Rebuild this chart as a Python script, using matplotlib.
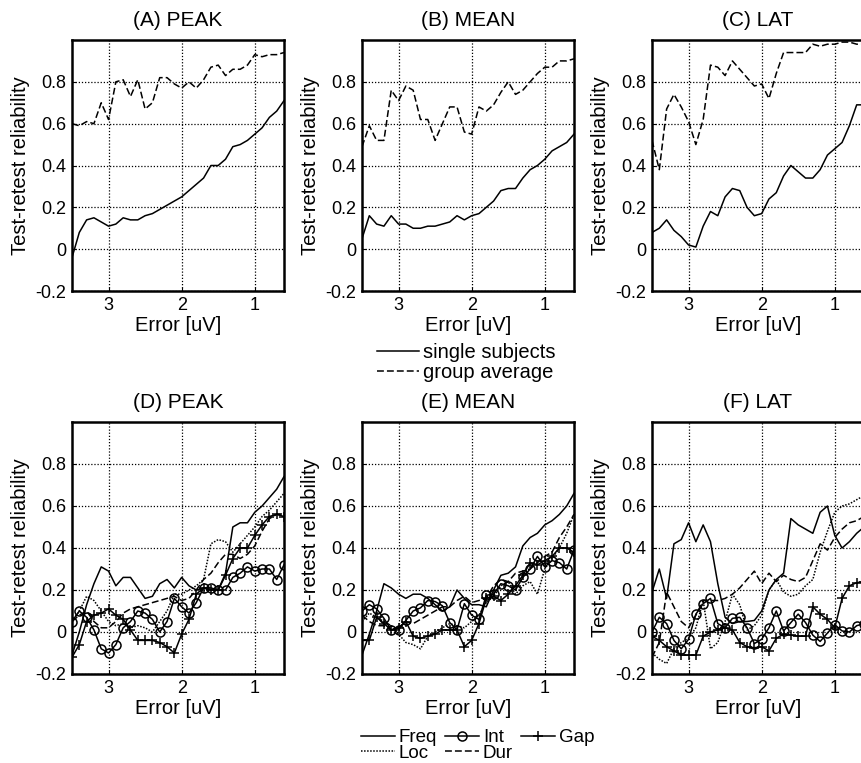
import numpy as np
import matplotlib
matplotlib.use("Agg")
import matplotlib.pyplot as plt
from matplotlib.lines import Line2D

plt.rcParams['font.family'] = ['Liberation Sans', 'DejaVu Sans']

# x values: error in uV (axis reversed)
err = [3.5, 3.4, 3.3, 3.2, 3.1, 3.0, 2.9, 2.8, 2.7, 2.6, 2.5, 2.4, 2.3, 2.2, 2.1,
       2.0, 1.9, 1.8, 1.7, 1.6, 1.5, 1.4, 1.3, 1.2, 1.1, 1.0, 0.9, 0.8, 0.7, 0.6]

top_titles = ["(A) PEAK", "(B) MEAN", "(C) LAT"]
bottom_titles = ["(D) PEAK", "(E) MEAN", "(F) LAT"]

# Top row: single subjects (solid) and group average (dashed)
peak_single = [-0.04, 0.08, 0.14, 0.15, 0.13, 0.11, 0.12, 0.15, 0.14, 0.14, 0.16, 0.17, 0.19, 0.21, 0.23,
               0.25, 0.28, 0.31, 0.34, 0.40, 0.40, 0.43, 0.49, 0.50, 0.52, 0.55, 0.58, 0.63, 0.66, 0.71]
peak_group = [0.60, 0.59, 0.61, 0.60, 0.70, 0.62, 0.80, 0.81, 0.73, 0.81, 0.67, 0.70, 0.82, 0.82, 0.79,
              0.77, 0.80, 0.77, 0.81, 0.87, 0.88, 0.83, 0.86, 0.86, 0.88, 0.93, 0.92, 0.93, 0.93, 0.94]
mean_single = [0.05, 0.16, 0.12, 0.11, 0.16, 0.12, 0.12, 0.10, 0.10, 0.11, 0.11, 0.12, 0.13, 0.16, 0.14,
               0.16, 0.17, 0.20, 0.23, 0.28, 0.29, 0.29, 0.34, 0.38, 0.40, 0.43, 0.47, 0.49, 0.51, 0.55]
mean_group = [0.49, 0.59, 0.52, 0.52, 0.76, 0.71, 0.78, 0.76, 0.62, 0.62, 0.52, 0.60, 0.68, 0.68, 0.56,
              0.55, 0.68, 0.66, 0.69, 0.75, 0.80, 0.74, 0.76, 0.80, 0.84, 0.87, 0.87, 0.90, 0.90, 0.91]
lat_single = [0.08, 0.10, 0.14, 0.09, 0.06, 0.02, 0.01, 0.11, 0.18, 0.16, 0.25, 0.29, 0.28, 0.20, 0.16,
              0.17, 0.24, 0.27, 0.35, 0.40, 0.37, 0.34, 0.34, 0.38, 0.45, 0.48, 0.51, 0.59, 0.69, 0.69]
lat_group = [0.52, 0.38, 0.67, 0.74, 0.68, 0.61, 0.50, 0.62, 0.88, 0.87, 0.83, 0.90, 0.86, 0.82, 0.78,
             0.79, 0.72, 0.84, 0.94, 0.94, 0.94, 0.94, 0.98, 0.97, 0.98, 0.98, 0.99, 0.99, 0.98, 0.98]

# Bottom row: features Freq, Int, Gap, Loc, Dur
peak_freq = [-0.11, 0.00, 0.13, 0.23, 0.31, 0.29, 0.22, 0.26, 0.26, 0.21, 0.16, 0.17, 0.23, 0.25, 0.21,
             0.26, 0.22, 0.20, 0.21, 0.20, 0.20, 0.28, 0.50, 0.52, 0.52, 0.57, 0.60, 0.64, 0.68, 0.74]
peak_int = [0.05, 0.10, 0.07, 0.01, -0.08, -0.10, -0.06, 0.02, 0.05, 0.10, 0.09, 0.06, 0.00, 0.05, 0.16,
            0.12, 0.09, 0.14, 0.21, 0.21, 0.20, 0.20, 0.26, 0.28, 0.31, 0.29, 0.30, 0.30, 0.25, 0.32]
peak_gap = [-0.12, -0.06, 0.05, 0.08, 0.09, 0.11, 0.08, 0.06, 0.01, -0.04, -0.04, -0.04, -0.05, -0.07, -0.10,
            -0.01, 0.06, 0.18, 0.21, 0.20, 0.20, 0.27, 0.35, 0.40, 0.40, 0.46, 0.51, 0.55, 0.56, 0.55]
peak_loc = [0.05, 0.10, 0.17, 0.15, 0.10, 0.05, 0.03, 0.04, 0.02, 0.03, 0.02, 0.00, 0.05, 0.10, 0.18,
            0.18, 0.20, 0.22, 0.25, 0.42, 0.44, 0.43, 0.38, 0.42, 0.46, 0.50, 0.55, 0.58, 0.62, 0.66]
peak_dur = [0.05, 0.08, 0.10, 0.05, 0.02, 0.02, 0.05, 0.09, 0.11, 0.12, 0.13, 0.14, 0.15, 0.16, 0.17,
            0.15, 0.16, 0.20, 0.25, 0.28, 0.33, 0.37, 0.37, 0.35, 0.37, 0.41, 0.48, 0.54, 0.56, 0.56]

mean_freq = [-0.11, -0.01, 0.10, 0.23, 0.21, 0.18, 0.16, 0.18, 0.18, 0.16, 0.13, 0.10, 0.12, 0.20, 0.16,
             0.13, 0.13, 0.12, 0.20, 0.27, 0.28, 0.31, 0.41, 0.45, 0.47, 0.51, 0.53, 0.56, 0.60, 0.66]
mean_int = [0.10, 0.13, 0.11, 0.065, 0.01, 0.01, 0.055, 0.10, 0.115, 0.15, 0.145, 0.125, 0.045, 0.01, 0.135,
            0.08, 0.06, 0.175, 0.18, 0.23, 0.22, 0.20, 0.26, 0.30, 0.36, 0.31, 0.34, 0.33, 0.30, 0.39]
mean_gap = [-0.04, -0.04, 0.07, 0.04, 0.01, 0.02, 0.05, -0.02, -0.03, -0.02, -0.01, 0.01, 0.01, 0.01, -0.07,
            -0.04, 0.04, 0.16, 0.17, 0.15, 0.18, 0.22, 0.27, 0.33, 0.32, 0.34, 0.36, 0.40, 0.40, 0.38]
mean_loc = [0.05, 0.09, 0.07, 0.05, 0.03, -0.01, -0.05, -0.06, -0.08, -0.02, 0.00, 0.02, 0.04, 0.03, 0.02,
            0.05, 0.08, 0.14, 0.17, 0.22, 0.24, 0.18, 0.22, 0.24, 0.18, 0.30, 0.35, 0.40, 0.47, 0.56]
mean_dur = [0.08, 0.05, 0.03, 0.03, 0.01, 0.02, 0.05, 0.04, 0.06, 0.08, 0.10, 0.12, 0.12, 0.15, 0.17,
            0.14, 0.15, 0.16, 0.22, 0.25, 0.24, 0.28, 0.29, 0.30, 0.33, 0.36, 0.38, 0.45, 0.50, 0.56]

lat_freq = [0.19, 0.30, 0.16, 0.42, 0.44, 0.52, 0.43, 0.51, 0.43, 0.23, 0.07, 0.04, 0.05, 0.05, 0.055,
            0.10, 0.20, 0.25, 0.28, 0.54, 0.51, 0.49, 0.47, 0.57, 0.60, 0.46, 0.40, 0.43, 0.47, 0.50]
lat_int = [0.00, 0.07, 0.04, -0.04, -0.08, -0.035, 0.085, 0.135, 0.16, 0.04, 0.02, 0.065, 0.07, 0.02, -0.055,
           -0.035, 0.02, 0.10, 0.005, 0.045, 0.085, 0.045, -0.015, -0.045, -0.005, 0.035, 0.005, 0.00, 0.03, 0.04]
lat_gap = [-0.02, -0.04, -0.07, -0.09, -0.11, -0.11, -0.11, -0.02, 0.00, 0.01, 0.02, 0.01, -0.05, -0.07, -0.075,
           -0.07, -0.09, -0.03, -0.01, -0.015, -0.02, -0.02, 0.12, 0.085, 0.06, 0.02, 0.16, 0.22, 0.235, 0.24]
lat_loc = [-0.10, -0.13, -0.15, -0.08, -0.05, -0.03, 0.02, 0.15, -0.08, -0.05, 0.05, 0.18, 0.13, 0.01, 0.03,
           0.08, 0.20, 0.25, 0.19, 0.17, 0.18, 0.22, 0.25, 0.38, 0.48, 0.57, 0.60, 0.61, 0.63, 0.65]
lat_dur = [-0.12, -0.05, 0.19, 0.12, 0.05, 0.02, 0.08, 0.15, 0.15, 0.15, 0.16, 0.18, 0.21, 0.25, 0.29,
           0.23, 0.28, 0.24, 0.27, 0.25, 0.24, 0.26, 0.34, 0.42, 0.39, 0.45, 0.49, 0.52, 0.53, 0.55]

top_data = [(peak_single, peak_group), (mean_single, mean_group), (lat_single, lat_group)]
bottom_data = [
    dict(Freq=peak_freq, Int=peak_int, Gap=peak_gap, Loc=peak_loc, Dur=peak_dur),
    dict(Freq=mean_freq, Int=mean_int, Gap=mean_gap, Loc=mean_loc, Dur=mean_dur),
    dict(Freq=lat_freq, Int=lat_int, Gap=lat_gap, Loc=lat_loc, Dur=lat_dur),
]

yticks = [-0.2, 0, 0.2, 0.4, 0.6, 0.8]
ytick_labels = ["-0.2", "0", "0.2", "0.4", "0.6", "0.8"]
xticks = [3, 2, 1]
xtick_labels = ["3", "2", "1"]

W, H = 861, 763
fig = plt.figure(figsize=(W / 100, H / 100), dpi=100)

lefts = [72, 362, 652]
ax_w = 212
rows = [(40, 291), (422, 674)]

LW = 1.1
dash = (0, (4.5, 2.0))
dot = (0, (1.0, 1.0))

feature_styles = {
    'Freq': dict(color='black', lw=LW, ls='-'),
    'Int': dict(color='black', lw=LW, ls='-', marker='o', ms=6.5, mfc='none', mew=1.1),
    'Gap': dict(color='black', lw=LW, ls='-', marker='+', ms=7, mew=1.1),
    'Loc': dict(color='black', lw=LW, ls=dot),
    'Dur': dict(color='black', lw=LW, ls=dash),
}


def style_axes(ax, title):
    ax.set_xlim(3.5, 0.6)
    ax.set_ylim(-0.2, 1.0)
    ax.set_xticks(xticks)
    ax.set_xticklabels(xtick_labels)
    ax.set_yticks(yticks)
    ax.set_yticklabels(ytick_labels)
    ax.grid(True, color='black', ls=(0, (1, 1.5)), lw=0.9)
    ax.tick_params(direction='in', length=3, labelsize=13, width=0.8, pad=4)
    for s in ax.spines.values():
        s.set_linewidth(1.8)
    ax.set_title(title, fontsize=15, pad=10)
    ax.set_xlabel("Error [uV]", fontsize=14.5, labelpad=2)
    ax.set_ylabel("Test-retest reliability", fontsize=14.5, labelpad=4)


for r, (top, bot) in enumerate(rows):
    for c in range(3):
        rect = [lefts[c] / W, 1 - bot / H, ax_w / W, (bot - top) / H]
        ax = fig.add_axes(rect)
        if r == 0:
            single, group = top_data[c]
            ax.plot(err, single, color='black', lw=LW, ls='-')
            ax.plot(err, group, color='black', lw=LW, ls=dash)
            style_axes(ax, top_titles[c])
        else:
            d = bottom_data[c]
            for name in ['Loc', 'Dur', 'Freq', 'Gap', 'Int']:
                ax.plot(err, d[name], **feature_styles[name])
            style_axes(ax, bottom_titles[c])

# Legends
h_top = [Line2D([], [], color='black', lw=LW, ls='-'),
         Line2D([], [], color='black', lw=LW, ls=dash)]
fig.legend(h_top, ["single subjects", "group average"], loc='upper left',
           bbox_to_anchor=(377 / W, 1 - 343 / H), frameon=False, fontsize=14.5,
           handlelength=2.1, handletextpad=0.2, labelspacing=0.05, borderpad=0, borderaxespad=0)

order = ['Freq', 'Loc', 'Int', 'Dur', 'Gap']
h_bot = [Line2D([], [], **feature_styles[n]) for n in order]
fig.legend(h_bot, order, loc='upper left', ncol=3,
           bbox_to_anchor=(361 / W, 1 - 729 / H), frameon=False, fontsize=13.5,
           handlelength=1.8, handletextpad=0.2, labelspacing=-0.09, columnspacing=0.45,
           borderpad=0, borderaxespad=0)

fig.savefig("out.png", dpi=100)
